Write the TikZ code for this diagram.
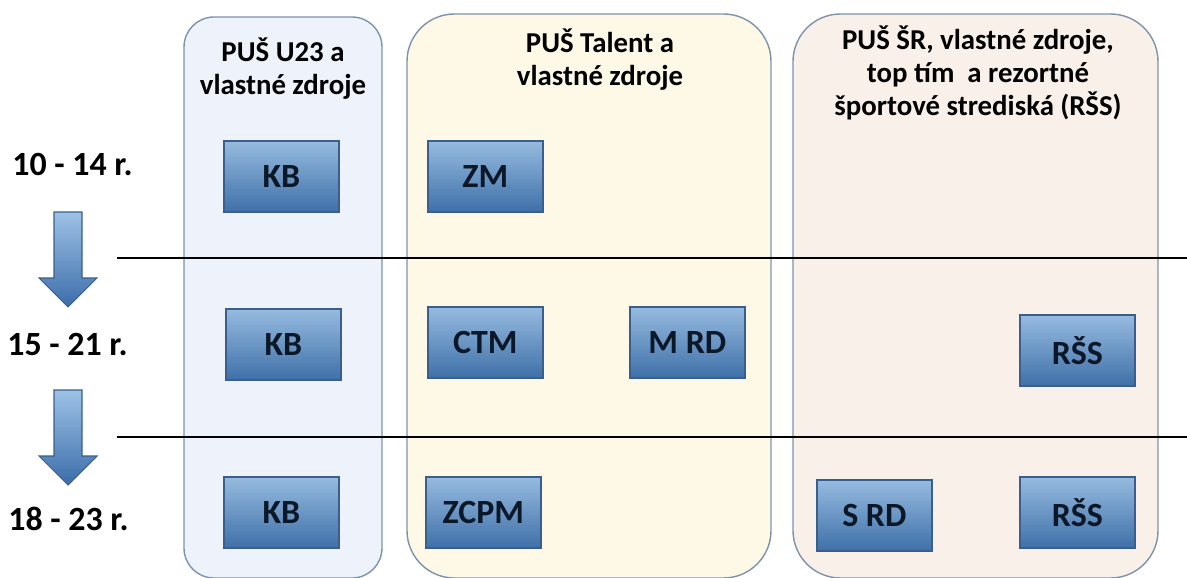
\documentclass[tikz,border=0pt]{standalone}
\usepackage{fontspec}
\setmainfont{Carlito}
\begin{document}
\begin{tikzpicture}[x=0.02cm,y=-0.02cm,
  panel/.style={draw=panelborder, line width=0.8pt},
  box/.style={draw=boxborder, line width=1pt, top color=boxtop, bottom color=boxbot,
    minimum width=2.3cm, minimum height=1.42cm, inner sep=0pt,
    font=\fontsize{19.3}{21}\selectfont\bfseries, text=boxtext, anchor=north west},
  head/.style={align=center, font=\fontsize{16.4}{18.6}\selectfont\bfseries, text=black, anchor=base, inner sep=0pt},
  age/.style={font=\fontsize{19.3}{21}\selectfont\bfseries, text=black, anchor=base west, inner sep=0pt},
  sep/.style={line width=1.2pt, draw=black},
  barrow/.style={draw=boxborder, line width=0.6pt, top color=arrtop, bottom color=arrbot}]
\definecolor{panelborder}{HTML}{7D93AC}
\definecolor{fillA}{HTML}{EEF3FB}
\definecolor{fillB}{HTML}{FEF8E7}
\definecolor{fillC}{HTML}{FAF0EA}
\definecolor{boxborder}{HTML}{3A5F8C}
\definecolor{boxtop}{HTML}{96BBE0}
\definecolor{boxbot}{HTML}{3F70A8}
\definecolor{boxtext}{HTML}{0C1828}
\definecolor{arrtop}{HTML}{9EC2E6}
\definecolor{arrbot}{HTML}{3C6DAA}
\useasboundingbox (0,0) rectangle (1187,578);
\begin{scope}
\clip (0,0) rectangle (1187,578);
% panels
\draw[panel, fill=fillA, rounded corners=0.6cm] (184,17) rectangle (382,578);
\draw[panel, fill=fillB, rounded corners=0.95cm] (407,14) rectangle (771,578);
\draw[panel, fill=fillC, rounded corners=0.95cm] (793,14) rectangle (1158,578);
\end{scope}
% headings (anchor at the baseline of the last line)
\node[head] (hA) at (283,94) {PUŠ U23 a\\vlastné zdroje};
\node[head] (hB) at (600,85) {PUŠ Talent a\\vlastné zdroje};
\node[head] (hC) at (978,115) {PUŠ ŠR, vlastné zdroje,\\top tím\ \ a rezortné\\športové strediská (RŠS)};
% separators
\coordinate (s1a) at (117,258); \coordinate (s1b) at (1187,258);
\coordinate (s2a) at (117,437); \coordinate (s2b) at (1187,437);
\draw[sep] (s1a) -- (s1b);
\draw[sep] (s2a) -- (s2b);
% age labels
\node[age] (a1) at (12,175) {10 - 14 r.};
\node[age] (a2) at (7,355) {15 - 21 r.};
\node[age] (a3) at (8,530) {18 - 23 r.};
% block arrows
\draw[barrow] (54,212) -- (82,212) -- (82,278) -- (97,278) -- (68,307) -- (39,278) -- (54,278) -- cycle;
\draw[barrow] (54,390) -- (82,390) -- (82,456) -- (97,456) -- (68,485) -- (39,456) -- (54,456) -- cycle;
% boxes
\node[box] (kb1) at (223,140) {KB};
\node[box] (kb2) at (225,308) {KB};
\node[box] (kb3) at (223,476) {KB};
\node[box] (zm) at (427,140) {ZM};
\node[box] (ctm) at (427,306) {CTM};
\node[box] (mrd) at (629,306) {M RD};
\node[box] (zcpm) at (425,476) {ZCPM};
\node[box] (rss1) at (1019,314) {RŠS};
\node[box] (srd) at (816,479) {S RD};
\node[box] (rss2) at (1019,476) {RŠS};
\end{tikzpicture}
\end{document}
